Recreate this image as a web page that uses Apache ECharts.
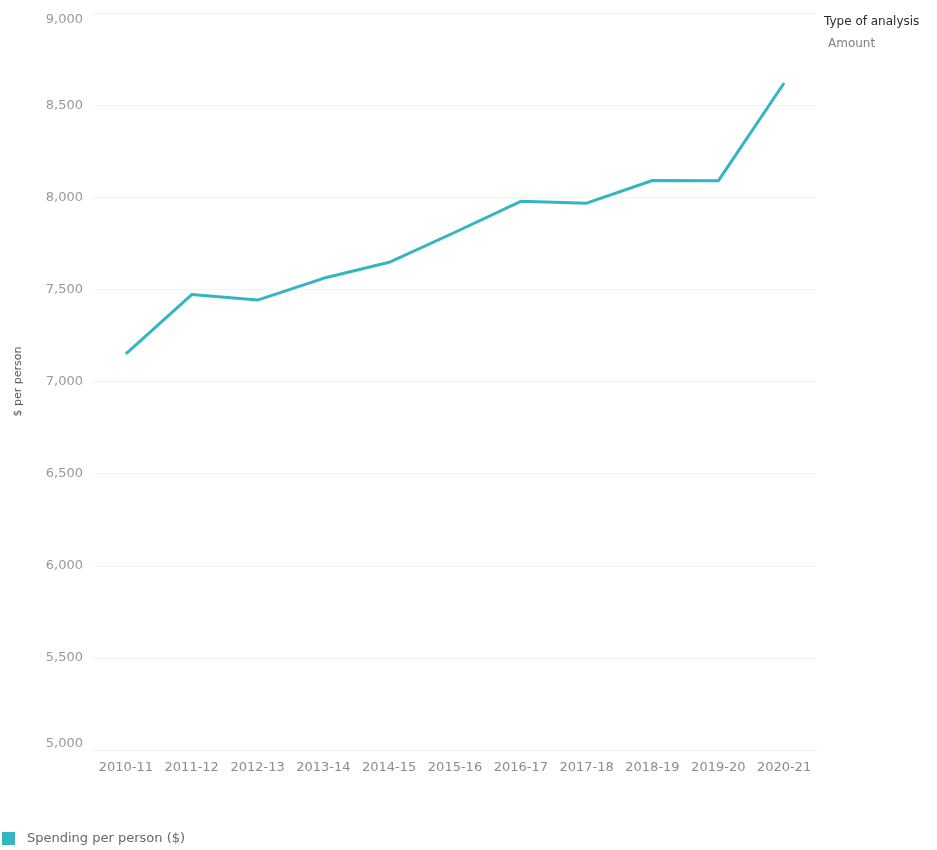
<!DOCTYPE html>
<html><head><meta charset="utf-8">
<script src="https://cdn.jsdelivr.net/npm/echarts@6/dist/echarts.min.js"></script>
<style>html,body{margin:0;padding:0;background:#fff}#c{width:937px;height:850px}</style>
</head><body><div id="c"></div>
<script>
const categories = ['2010-11','2011-12','2012-13','2013-14','2014-15','2015-16','2016-17','2017-18','2018-19','2019-20','2020-21'];
const spending = [7150, 7472, 7442, 7560, 7647, 7810, 7978, 7968, 8091, 8089, 8620];
const seriesName = 'Spending per person ($)';
const yAxisName = '$ per person';
const lineColor = '#33b6c2';
const font = 'DejaVu Sans';

const chart = echarts.init(document.getElementById('c'));
chart.setOption({
  animation: false,
  textStyle: {fontFamily: font},
  grid: {left: 93, right: 120, top: 13, bottom: 100, containLabel: false},
  legend: {
    left: 2, top: 832, itemWidth: 13, itemHeight: 13, itemGap: 10,
    icon: 'rect', padding: 0,
    textStyle: {color: '#666', fontSize: 13, fontFamily: font, padding: [0, 0, 0, 7]},
    data: [{name: seriesName, itemStyle: {color: lineColor}}]
  },
  graphic: [
    {type: 'text', left: 824, top: 16, style: {text: 'Type of analysis', fill: '#2b2b2b', font: '12px "DejaVu Sans"'}},
    {type: 'text', left: 828, top: 38, style: {text: 'Amount', fill: '#808080', font: '12px "DejaVu Sans"'}}
  ],
  xAxis: {
    type: 'category', data: categories, boundaryGap: true,
    axisLine: {show: true, lineStyle: {color: '#eeeeee'}},
    axisTick: {show: false},
    axisLabel: {color: '#8c8c8c', fontSize: 13, margin: 11, interval: 0}
  },
  yAxis: {
    type: 'value', min: 5000, max: 9000, interval: 500,
    name: yAxisName, nameLocation: 'middle', nameGap: 69, nameRotate: 90,
    nameTextStyle: {color: '#555', fontSize: 11},
    axisLine: {show: false}, axisTick: {show: false},
    axisLabel: {color: '#999', fontSize: 13, margin: 10,
      verticalAlignMaxLabel: 'top', verticalAlignMinLabel: 'bottom',
      formatter: v => v.toLocaleString('en-US')},
    splitLine: {lineStyle: {color: '#f3f3f3', width: 1}}
  },
  series: [{
    name: seriesName, type: 'line', data: spending,
    symbol: 'none', lineStyle: {color: lineColor, width: 3},
    itemStyle: {color: lineColor}
  }]
});
</script></body></html>
